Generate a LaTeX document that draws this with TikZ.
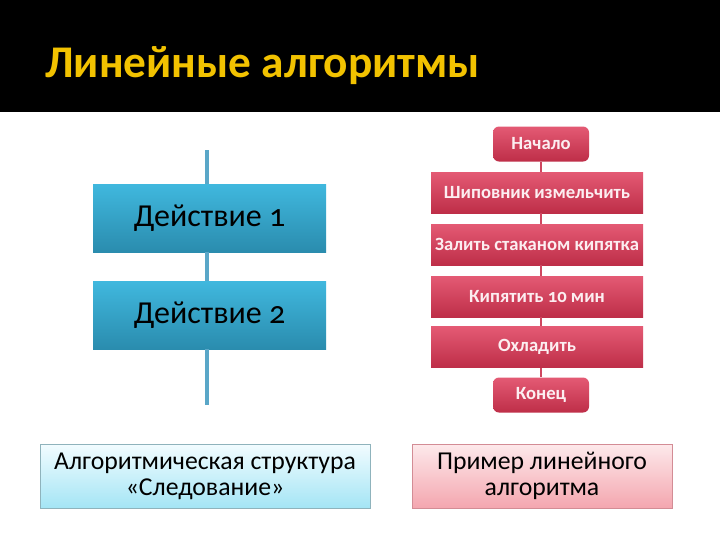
\documentclass[tikz,border=0pt]{standalone}
\usepackage{fontspec}
\setmainfont[Numbers=OldStyle]{Carlito}
\newfontfamily\titlefont{Carlito}
\definecolor{titlegold}{HTML}{F2C200}
\definecolor{bluetop}{HTML}{40B8DE}
\definecolor{bluebot}{HTML}{2A8CAE}
\definecolor{blueline}{HTML}{5AA7C8}
\definecolor{redtop}{HTML}{E45A74}
\definecolor{redbot}{HTML}{BE2E48}
\definecolor{redline}{HTML}{CF4760}
\definecolor{redtext}{HTML}{FCEEF1}
\definecolor{ltbluetop}{HTML}{F2FCFF}
\definecolor{ltbluebot}{HTML}{A4E5F5}
\definecolor{ltblueedge}{HTML}{8FB3BC}
\definecolor{pinktop}{HTML}{FDE9EB}
\definecolor{pinkbot}{HTML}{F4A6AF}
\definecolor{pinkedge}{HTML}{D38C95}
\tikzset{
  actbox/.style={draw=none, top color=bluetop, bottom color=bluebot, minimum width=174.75pt, minimum height=51pt, inner sep=0pt, font=\fontsize{24}{28}\selectfont, text=black},
  redbox/.style={draw=none, top color=redtop, bottom color=redbot, minimum width=159pt, minimum height=30.75pt, inner sep=0pt, font=\fontsize{14}{16}\selectfont\bfseries, text=redtext},
  termbox/.style={redbox, rounded corners=4.5pt, minimum width=72pt, minimum height=26.25pt},
  capbox/.style={minimum height=48pt, inner sep=0pt, align=center, font=\fontsize{19.3}{19.5}\selectfont, text=black},
  bline/.style={draw=blueline, line width=3pt},
  rline/.style={draw=redline, line width=2.2pt}
}
\begin{document}
\begin{tikzpicture}[x=0.75pt, y=-0.75pt]
\useasboundingbox (0,0) rectangle (720,540);
\fill[white] (0,0) rectangle (720,540);
\fill[black] (0,0) rectangle (720,112);
\node[anchor=base west, inner sep=0pt, text=titlegold, font=\titlefont\fontsize{34}{40}\selectfont\bfseries] (title) at (45,77) {Линейные алгоритмы};
% left column
\coordinate (ltop) at (207,150);
\coordinate (lbot) at (207,405);
\node[actbox] (d1) at (209.5,218) {Действие 1};
\node[actbox] (d2) at (209.5,315) {Действие 2};
\draw[bline] (ltop) -- (d1.north -| ltop);
\draw[bline] (d1.south -| ltop) -- (d2.north -| ltop);
\draw[bline] (d2.south -| ltop) -- (lbot);
% right column
\node[termbox] (start) at (541,144) {Начало};
\node[redbox] (s1) at (537,192.5) {Шиповник измельчить};
\node[redbox] (s2) at (537,244.5) {Залить стаканом кипятка};
\node[redbox] (s3) at (537,296.5) {Кипятить 10 мин};
\node[redbox] (s4) at (537,347) {Охладить};
\node[termbox] (end) at (541,395) {Конец};
\draw[rline] (start.south) -- (start.south |- s1.north);
\draw[rline] (s1.south -| start.south) -- (start.south |- s2.north);
\draw[rline] (s2.south -| start.south) -- (start.south |- s3.north);
\draw[rline] (s3.south -| start.south) -- (start.south |- s4.north);
\draw[rline] (s4.south -| start.south) -- (end.north);
% captions
\node[capbox, draw=ltblueedge, top color=ltbluetop, bottom color=ltbluebot, minimum width=247.5pt] (c1) at (205,476) {Алгоритмическая структура\\«Следование»};
\node[capbox, draw=pinkedge, top color=pinktop, bottom color=pinkbot, minimum width=195pt] (c2) at (542,476) {Пример линейного\\алгоритма};
\end{tikzpicture}
\end{document}
